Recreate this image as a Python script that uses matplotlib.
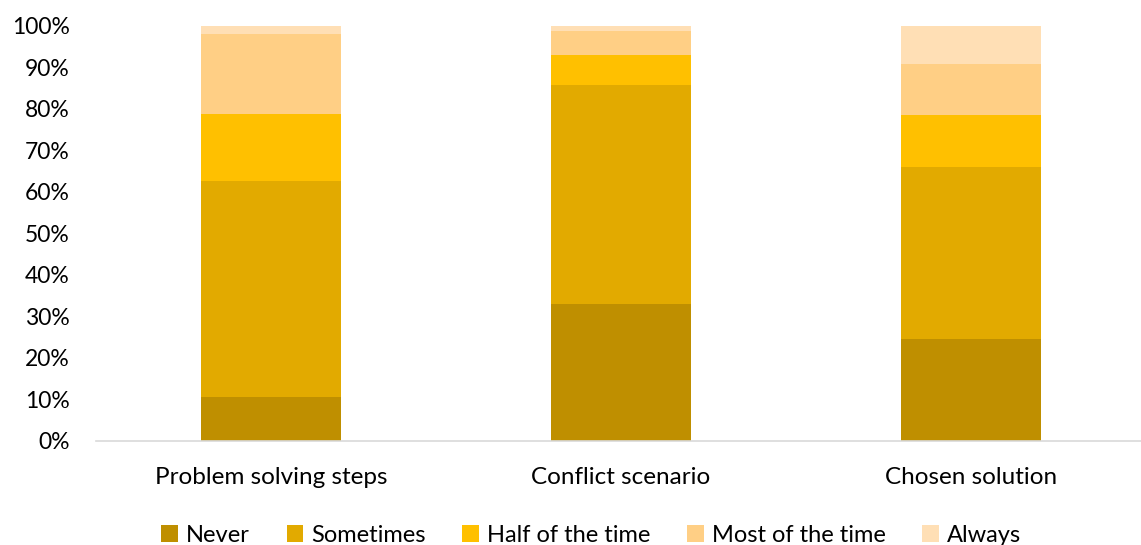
import matplotlib
matplotlib.use('Agg')
import matplotlib.pyplot as plt
from matplotlib.ticker import PercentFormatter
import numpy as np

plt.rcParams['font.family'] = ['Lato', 'DejaVu Sans']

categories = ['Problem solving steps', 'Conflict scenario', 'Chosen solution']
series = ['Never', 'Sometimes', 'Half of the time', 'Most of the time', 'Always']
never = [10.4, 32.9, 24.6]
sometimes = [52.2, 52.9, 41.5]
half = [16.2, 7.3, 12.5]
most = [19.3, 5.8, 12.2]
always = [1.9, 1.1, 9.2]
colors = ['#BF8F00', '#E2AA00', '#FFC000', '#FFCF85', '#FFDFB5']

fig = plt.figure(figsize=(11.41, 5.45), dpi=100)
ax = fig.add_axes([96 / 1141, 1 - 440.5 / 545, 1 - 96 / 1141, (440.5 - 26) / 545])

x = np.arange(len(categories))
bottom = np.zeros(len(categories))
for name, vals, c in zip(series, [never, sometimes, half, most, always], colors):
    ax.bar(x, vals, 0.4, bottom=bottom, color=c, label=name)
    bottom += np.array(vals)

ax.set_xlim(-0.5, 2.486)
ax.set_ylim(0, 100)
ax.set_yticks(np.arange(0, 101, 10))
ax.yaxis.set_major_formatter(PercentFormatter(decimals=0))
ax.set_xticks(x)
ax.set_xticklabels(categories)
ax.tick_params(length=0, labelsize=16.5, colors='#000000')
ax.tick_params(axis='x', pad=19, labelsize=17.5)
ax.tick_params(axis='y', pad=19)
for s in ['top', 'right', 'left']:
    ax.spines[s].set_visible(False)
ax.spines['bottom'].set_color('#D9D9D9')
ax.spines['bottom'].set_linewidth(1.2)

ax.legend(loc='center', bbox_to_anchor=(0.474, -0.228), ncol=5, frameon=False,
          fontsize=17, handlelength=0.7, handleheight=0.7, handletextpad=0.35,
          columnspacing=1.55, borderaxespad=0)

fig.savefig('out.png', dpi=100)
